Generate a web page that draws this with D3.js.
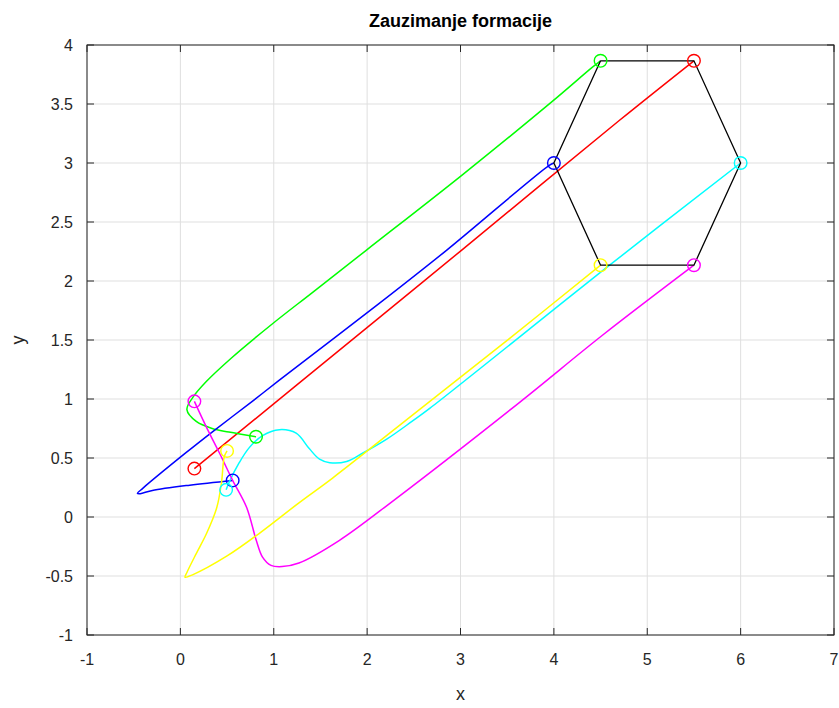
<!DOCTYPE html>
<html><head><meta charset="utf-8">
<script src="https://cdn.jsdelivr.net/npm/d3@7"></script>
<style>body{margin:0;background:#fff}svg{display:block}text{font-family:"Liberation Sans",Arial,Helvetica,sans-serif}</style>
</head><body>
<svg id="c" width="839" height="708"></svg>
<script>
const xTicks = [-1,0,1,2,3,4,5,6,7];
const yTicks = [-1,-0.5,0,0.5,1,1.5,2,2.5,3,3.5,4];
const yTickLabels = ["-1","-0.5","0","0.5","1","1.5","2","2.5","3","3.5","4"];
const seriesColors = ["#ff0000","#00ff00","#0000ff","#00ffff","#ff00ff","#ffff00"];
const redPath = [[0.15,0.41],[2.13,1.69],[3.01,2.26],[4.70,3.36],[5.5,3.866]];
const greenPath = [[0.81,0.68],[0.52,0.72],[0.34,0.75],[0.17,0.81],[0.07,0.91],[0.13,1.01],[0.28,1.15],[0.55,1.35],[0.99,1.64],[1.41,1.90],[1.99,2.26],[3.02,2.90],[3.98,3.52],[4.41,3.81],[4.5,3.866]];
const bluePath = [[0.56,0.31],[0.1,0.27],[-0.30,0.225],[-0.43,0.198],[-0.46,0.20],[-0.40,0.245],[0.06,0.545],[0.34,0.72],[0.77,0.98],[1.06,1.16],[2.13,1.81],[2.85,2.26],[3.95,2.98],[4.0,3.0]];
const cyanPath = [[0.49,0.23],[0.52,0.29],[0.63,0.46],[0.74,0.59],[0.88,0.69],[1.06,0.74],[1.24,0.71],[1.38,0.58],[1.49,0.49],[1.60,0.46],[1.78,0.47],[1.95,0.54],[2.21,0.66],[2.48,0.81],[2.67,0.92],[4.59,2.13],[6.0,3.0]];
const magentaPath = [[0.15,0.98],[0.28,0.76],[0.42,0.54],[0.56,0.31],[0.71,0.08],[0.81,-0.19],[0.88,-0.34],[0.97,-0.41],[1.09,-0.42],[1.27,-0.39],[1.7,-0.20],[2.3,0.15],[3.63,0.97],[4.52,1.54],[5.5,2.134]];
const yellowPath = [[0.50,0.56],[0.47,0.51],[0.44,0.29],[0.39,0.08],[0.28,-0.14],[0.17,-0.31],[0.07,-0.47],[0.05,-0.51],[0.13,-0.49],[0.50,-0.33],[0.86,-0.13],[1.27,0.12],[1.63,0.33],[2.56,0.91],[3.52,1.51],[4.5,2.134]];
const formation = [[4.5,3.866],[5.5,3.866],[6,3],[5.5,2.134],[4.5,2.134],[4,3]];

const paths = [redPath, greenPath, bluePath, cyanPath, magentaPath, yellowPath];

const svg = d3.select("#c");
const m = {l:87, r:834, t:45, b:635};
const x = d3.scaleLinear().domain([-1,7]).range([m.l,m.r]);
const y = d3.scaleLinear().domain([-1,4]).range([m.b,m.t]);
const axisCol = "#262626";

const g = svg.append("g");
g.selectAll(".gx").data(xTicks).join("line").attr("x1",d=>x(d)).attr("x2",d=>x(d)).attr("y1",m.t).attr("y2",m.b).attr("stroke","#dfdfdf").attr("stroke-width",1);
g.selectAll(".gy").data(yTicks).join("line").attr("y1",d=>y(d)).attr("y2",d=>y(d)).attr("x1",m.l).attr("x2",m.r).attr("stroke","#dfdfdf").attr("stroke-width",1);

svg.append("clipPath").attr("id","clip").append("rect").attr("x",m.l).attr("y",m.t).attr("width",m.r-m.l).attr("height",m.b-m.t);
const plot = svg.append("g").attr("clip-path","url(#clip)");

const line = d3.line().x(d=>x(d[0])).y(d=>y(d[1])).curve(d3.curveCatmullRom.alpha(0.5));
paths.forEach((p,i)=>{
  plot.append("path").attr("d",line(p)).attr("fill","none").attr("stroke",seriesColors[i]).attr("stroke-width",1.5);
});
plot.append("path").attr("d", d3.line().x(d=>x(d[0])).y(d=>y(d[1]))(formation.concat([formation[0]])))
  .attr("fill","none").attr("stroke","#000").attr("stroke-width",1.3).attr("stroke-linejoin","miter");
paths.forEach((p,i)=>{
  [p[0], p[p.length-1]].forEach(pt=>{
    plot.append("circle").attr("cx",x(pt[0])).attr("cy",y(pt[1])).attr("r",6.3).attr("fill","none").attr("stroke",seriesColors[i]).attr("stroke-width",1.4);
  });
});

const ax = svg.append("g");
ax.append("rect").attr("x",m.l).attr("y",m.t).attr("width",m.r-m.l).attr("height",m.b-m.t).attr("fill","none").attr("stroke",axisCol).attr("stroke-width",1);
const tl = 7;
xTicks.forEach(t=>{
  ax.append("line").attr("x1",x(t)).attr("x2",x(t)).attr("y1",m.b).attr("y2",m.b-tl).attr("stroke",axisCol);
  ax.append("line").attr("x1",x(t)).attr("x2",x(t)).attr("y1",m.t).attr("y2",m.t+tl).attr("stroke",axisCol);
});
yTicks.forEach(t=>{
  ax.append("line").attr("y1",y(t)).attr("y2",y(t)).attr("x1",m.l).attr("x2",m.l+tl).attr("stroke",axisCol);
  ax.append("line").attr("y1",y(t)).attr("y2",y(t)).attr("x1",m.r).attr("x2",m.r-tl).attr("stroke",axisCol);
});
ax.selectAll(".xl").data(xTicks).join("text").attr("x",d=>x(d)).attr("y",m.b+30).attr("text-anchor","middle").attr("font-size",16).attr("fill",axisCol).text(d=>String(d));
ax.selectAll(".yl").data(yTicks).join("text").attr("x",m.l-14).attr("y",d=>y(d)+6).attr("text-anchor","end").attr("font-size",16).attr("fill",axisCol).text((d,i)=>yTickLabels[i]);

svg.append("text").attr("x",(m.l+m.r)/2).attr("y",27).attr("text-anchor","middle").attr("font-size",18).attr("font-weight","bold").attr("fill","#000").text("Zauzimanje formacije");
svg.append("text").attr("x",(m.l+m.r)/2).attr("y",700).attr("text-anchor","middle").attr("font-size",18).attr("fill",axisCol).text("x");
svg.append("text").attr("transform",`translate(24,${(m.t+m.b)/2}) rotate(-90)`).attr("text-anchor","middle").attr("font-size",18).attr("fill",axisCol).text("y");
</script>
</body></html>
